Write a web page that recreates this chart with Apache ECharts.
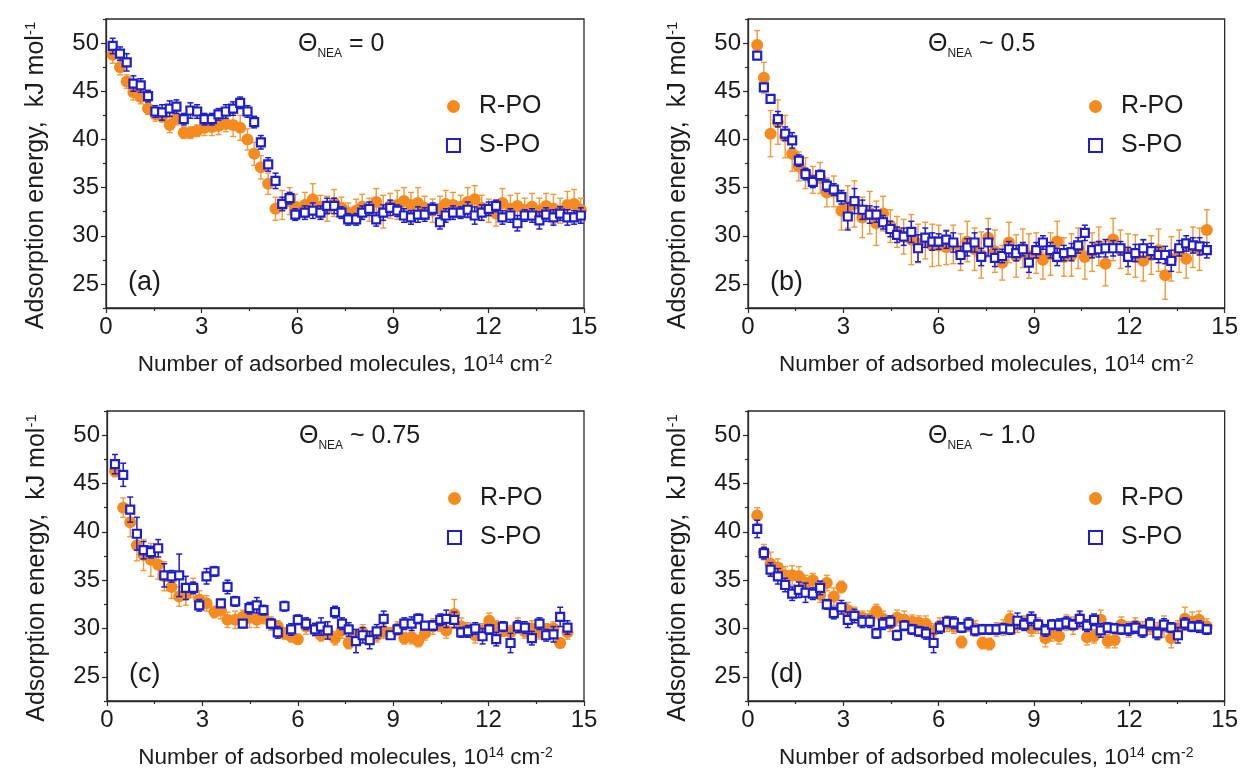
<!DOCTYPE html>
<html>
<head>
<meta charset="utf-8">
<script src="https://cdn.jsdelivr.net/npm/echarts@6/dist/echarts.min.js"></script>
<style>html,body{margin:0;padding:0;background:#fff}#c{width:1241px;height:773px}</style>
</head>
<body>
<div id="c"></div>
<script>
// ---------- data ----------
const xTicks = [0, 3, 6, 9, 12, 15];
const yTicks = [25, 30, 35, 40, 45, 50];
const seriesNames = ['R-PO', 'S-PO'];
const panelLetters = ['(a)', '(b)', '(c)', '(d)'];
const thetaValues = ['= 0', '~ 0.5', '~ 0.75', '~ 1.0'];

// panel (a)  Θ_NEA = 0
const aX = [0.21,0.44,0.65,0.86,1.09,1.32,1.55,1.76,2.0,2.21,2.44,2.65,2.86,3.09,3.32,3.53,3.76,3.99,4.21,4.44,4.65,4.86,5.09,5.32,5.53,5.76,5.94,
  6.24,6.49,6.73,6.94,7.16,7.39,7.6,7.85,8.04,8.26,8.48,8.7,8.92,9.14,9.35,9.57,9.79,10.0,10.25,10.48,10.66,10.89,11.13,11.35,11.57,11.79,12.01,12.24,12.44,12.69,12.91,13.14,13.37,13.6,13.81,14.04,14.25,14.48,14.69,14.9];
const aR = [48.8,47.5,46.0,44.9,44.4,43.2,42.6,42.4,41.5,42.2,40.7,40.7,40.9,41.2,41.3,41.4,41.6,41.5,41.2,40.0,38.5,37.1,35.4,32.8,33.2,33.6,33.0,
  33.2,33.8,33.0,32.8,33.4,32.9,32.4,32.6,33.0,32.7,33.5,32.5,33.1,33.2,33.6,33.2,33.4,32.9,32.6,32.8,33.3,33.2,33.0,33.5,33.8,32.9,32.6,32.3,33.4,32.8,33.1,32.7,33.0,32.6,33.1,32.8,32.6,33.2,33.3,32.7];
const aRerr = [0.9,0.8,0.7,0.8,0.7,0.6,0.7,0.6,0.8,0.7,0.6,0.6,0.6,0.8,0.9,0.9,0.8,1.2,1.3,1.1,1.2,1.2,1.1,1.2,1.5,1.4,1.3,
  1.3,1.6,1.2,1.3,1.4,1.1,1.0,1.2,1.3,1.2,1.4,1.7,1.3,1.5,1.4,1.3,1.6,1.2,1.2,1.3,1.4,1.3,1.2,1.5,1.4,1.3,1.2,1.3,1.5,1.4,1.3,1.2,1.4,1.3,1.3,1.5,1.3,1.4,1.5,1.2];
const aS = [49.7,48.9,48.0,45.8,45.6,44.5,42.9,42.8,43.2,43.4,42.1,43.0,42.9,42.1,42.1,42.6,42.9,43.2,43.8,42.9,41.8,39.7,37.4,35.7,33.3,33.9,32.2,
  32.4,32.6,32.4,33.1,33.1,32.4,31.7,31.7,32.4,32.8,31.7,32.4,32.9,32.6,32.1,31.9,32.2,32.2,32.8,31.4,32.1,32.4,32.4,32.7,32.1,32.4,32.8,33.1,31.9,32.1,31.3,32.1,32.1,31.6,32.2,31.9,32.3,31.9,31.9,32.1];
const aSerr = [0.8,0.7,0.9,0.8,0.7,0.6,0.6,0.8,0.8,0.7,0.6,0.8,0.7,0.6,0.6,0.6,0.7,0.7,0.6,0.6,0.6,0.7,0.7,0.8,0.7,0.6,0.6,
  0.7,0.8,0.7,0.8,0.8,0.6,0.6,0.6,0.7,0.7,0.7,0.8,0.8,0.6,0.7,0.7,0.8,0.7,0.6,0.7,0.7,0.7,0.6,0.8,0.9,0.8,0.7,0.6,0.7,0.7,0.8,0.6,0.7,0.9,0.7,0.8,0.7,0.8,0.7,0.8];

// panel (b)  Θ_NEA ~ 0.5
const bX = [0.29,0.5,0.71,0.94,1.17,1.39,1.6,1.81,2.04,2.27,2.48,2.7,2.94,3.14,3.35,3.6,3.83,4.04,4.25,4.48,4.69,4.9,5.14,5.35,5.58,5.8,6.0,6.24,6.46,6.69,
  6.9,7.13,7.34,7.56,7.77,8.0,8.21,8.44,8.65,8.84,9.07,9.28,9.52,9.73,9.94,10.18,10.39,10.6,10.83,11.04,11.25,11.49,11.72,11.96,12.19,12.44,12.69,12.92,13.13,13.32,13.57,13.79,14.0,14.21,14.44];
const bR = [49.8,46.4,40.6,41.8,40.3,38.5,37.2,36.5,35.8,36.0,34.5,34.6,32.6,33.0,33.3,31.9,32.4,31.3,32.3,31.0,30.4,29.9,29.6,29.2,29.5,29.0,29.0,28.8,29.1,28.3,
  29.4,28.6,28.0,29.8,28.4,27.2,29.3,27.9,28.7,27.9,28.2,27.5,28.1,29.4,27.8,28.0,28.7,27.8,28.3,28.9,27.1,29.6,28.6,28.1,27.9,27.4,28.0,28.5,25.9,27.6,28.4,27.6,28.8,28.6,30.6];
const bRerr = [1.5,1.6,2.4,2.3,2.2,1.8,1.5,1.6,1.4,1.6,1.5,1.6,2.0,2.2,2.4,2.1,2.2,2.3,1.8,1.7,1.6,1.8,2.6,2.0,1.9,2.2,2.1,1.8,2.0,1.9,
  2.1,2.2,2.4,2.0,2.2,1.8,2.1,2.2,2.0,2.3,2.1,2.0,2.2,2.1,2.0,2.2,2.1,2.3,2.0,2.0,2.3,2.2,2.0,2.1,2.2,2.1,2.0,2.2,2.5,2.3,2.2,2.0,2.1,2.2,2.1];
const bS = [48.7,45.4,44.2,42.1,40.6,39.9,37.8,36.4,35.6,36.3,35.2,34.8,34.0,32.0,33.6,32.7,32.2,32.2,31.4,30.7,30.1,29.9,30.4,28.7,29.8,29.4,29.4,29.6,29.3,28.0,
  28.8,29.3,27.8,29.3,27.7,27.9,28.6,28.2,28.6,27.2,28.5,29.3,28.5,27.8,28.2,28.3,29.0,30.3,28.5,28.6,28.7,28.7,28.7,27.8,28.2,28.7,28.4,28.0,28.0,27.4,28.7,29.2,29.0,28.9,28.5];
const bSerr = [0.3,0.4,0.4,0.8,0.7,0.8,0.6,0.6,0.6,0.5,0.6,0.6,0.7,1.4,1.3,1.0,0.9,0.8,0.7,0.8,0.8,0.9,1.1,1.4,1.0,0.9,0.8,0.9,1.0,0.9,
  0.9,1.0,0.9,1.4,0.9,0.7,0.8,0.8,0.7,1.0,0.8,0.7,0.8,0.9,0.8,0.9,0.8,0.8,0.8,0.8,0.9,0.8,0.7,1.0,0.9,0.9,0.8,0.8,0.9,1.1,0.8,0.8,0.8,0.9,0.8];

// panel (c)  Θ_NEA ~ 0.75
const cX = [0.25,0.51,0.73,0.94,1.15,1.38,1.61,1.8,2.03,2.27,2.48,2.71,2.9,3.13,3.38,3.58,3.79,4.03,4.27,4.48,4.71,4.92,5.16,5.37,5.58,5.79,6.0,6.26,6.54,6.73,
  6.94,7.17,7.39,7.6,7.83,8.04,8.26,8.48,8.7,8.92,9.14,9.35,9.58,9.79,10.0,10.25,10.48,10.67,10.92,11.14,11.35,11.58,11.81,12.02,12.24,12.45,12.69,12.92,13.14,13.36,13.6,13.81,14.04,14.25,14.48];
const cR = [46.3,42.5,41.0,38.6,37.6,37.1,36.6,35.4,34.3,33.3,33.5,34.2,33.0,32.6,31.7,31.9,30.9,30.9,31.2,31.1,30.9,31.2,30.5,30.2,29.5,29.2,28.9,30.2,29.9,29.3,
  29.6,29.0,29.8,28.5,29.2,29.6,29.1,29.3,29.7,29.5,30.0,29.0,29.1,28.7,29.5,30.2,30.4,29.8,31.5,30.2,29.9,29.3,29.8,30.8,30.1,29.8,29.6,30.3,29.7,30.0,29.6,29.9,30.0,28.5,29.6];
const cRerr = [0.6,1.0,1.5,1.6,1.6,1.7,1.5,1.5,1.2,1.0,1.1,1.0,0.9,0.8,0.6,0.9,0.8,0.9,0.7,1.0,0.8,0.7,0.7,0.6,0.6,0.6,0.5,0.8,0.7,0.6,
  0.6,0.7,0.8,0.6,0.7,0.8,0.6,0.7,0.7,0.6,0.7,0.6,0.7,0.6,0.7,0.8,0.7,0.8,1.5,0.9,0.7,0.8,0.7,0.8,0.7,0.6,0.7,0.8,0.7,0.8,0.7,0.6,0.7,0.5,0.7];
const cS = [47.0,45.9,42.3,39.8,38.1,37.9,38.3,35.5,35.4,35.5,34.2,34.2,32.4,35.4,35.9,32.6,34.3,32.8,30.5,32.1,32.4,31.9,30.5,29.6,32.3,29.9,30.9,30.5,29.9,30.2,
  29.8,31.7,30.5,29.9,28.7,29.3,28.8,29.7,31.0,29.3,29.9,30.5,30.5,31.0,30.3,30.3,30.9,31.0,30.9,29.6,29.7,30.0,29.2,29.9,28.9,30.2,28.5,30.2,30.1,29.0,30.5,29.3,29.4,31.2,30.1];
const cSerr = [1.0,1.2,1.3,1.7,0.9,0.6,0.9,1.2,0.6,2.2,1.2,0.6,0.6,0.8,0.5,0.4,0.7,0.5,0.4,0.6,0.8,0.5,0.5,0.6,0.5,0.6,0.5,0.6,0.6,0.9,
  0.9,0.6,0.6,0.7,1.2,0.8,0.9,0.7,0.8,0.3,0.5,0.6,0.7,0.5,0.4,0.5,0.6,0.9,0.8,0.5,0.6,0.6,0.8,0.5,0.7,0.5,1.0,0.6,0.6,0.7,0.6,0.6,0.8,1.0,0.7];

// panel (d)  Θ_NEA ~ 1.0
const dX = [0.29,0.5,0.71,0.94,1.17,1.39,1.6,1.81,2.04,2.27,2.48,2.7,2.94,3.14,3.35,3.6,3.83,4.04,4.25,4.48,4.69,4.92,5.17,5.38,5.6,5.84,6.04,6.27,6.48,6.72,
  6.94,7.15,7.38,7.6,7.82,8.04,8.25,8.48,8.69,8.92,9.13,9.36,9.57,9.79,10.02,10.23,10.44,10.67,10.89,11.1,11.32,11.54,11.75,11.98,12.19,12.42,12.65,12.88,13.09,13.32,13.53,13.75,13.98,14.19,14.44];
const dR = [41.7,37.9,36.7,36.3,35.5,35.5,35.4,34.7,35.0,33.5,34.7,33.3,34.3,31.9,31.4,31.1,31.0,31.8,31.0,30.5,31.1,30.9,30.7,30.6,30.5,29.8,30.3,30.5,30.2,28.6,
  30.4,30.0,28.5,28.4,29.9,30.1,31.0,30.4,30.6,30.0,30.3,29.0,29.5,29.2,30.6,30.3,30.8,29.1,29.2,30.9,28.7,28.8,30.4,29.9,30.3,29.9,30.2,29.7,30.2,29.0,30.0,31.0,30.7,30.9,30.2];
const dRerr = [0.8,0.8,1.2,0.9,0.9,1.0,1.0,0.8,0.7,0.8,0.8,0.9,0.6,0.8,0.8,0.7,0.8,0.7,0.8,0.8,0.8,0.9,0.7,0.7,0.8,0.7,0.8,0.8,0.7,0.6,
  0.7,0.8,0.6,0.6,0.7,0.8,0.8,0.8,0.7,0.8,0.8,0.9,0.8,0.8,0.8,0.9,0.8,0.8,0.7,1.0,0.7,0.8,0.8,0.8,0.8,0.8,0.8,0.9,1.1,1.0,0.8,1.2,1.0,0.9,0.8];
const dS = [40.3,37.8,36.1,35.4,34.5,33.6,34.0,33.7,33.6,34.2,32.5,31.6,32.2,30.9,31.3,30.7,30.7,29.5,30.5,30.7,29.3,30.3,29.9,29.7,29.5,28.5,30.1,30.7,30.6,30.1,
  30.5,29.8,29.9,29.9,29.9,30.0,29.9,30.8,30.4,31.0,30.4,29.8,30.4,30.4,30.6,30.4,31.0,30.3,30.9,29.8,30.1,30.0,29.9,29.9,30.1,29.7,30.5,29.5,30.4,30.1,29.3,30.5,30.2,30.2,29.9];
const dSerr = [0.9,0.6,0.7,0.8,0.7,0.7,0.8,1.0,0.6,0.7,0.5,0.6,0.7,0.8,0.7,0.6,0.6,0.5,0.6,0.6,0.5,0.5,0.5,0.5,0.6,1.0,0.6,0.5,0.6,0.5,
  0.6,0.5,0.5,0.5,0.5,0.5,0.5,0.8,0.6,0.7,0.5,0.6,0.5,0.6,0.6,0.5,0.8,0.6,0.6,0.7,0.5,0.5,0.5,0.6,0.6,0.6,0.6,0.6,0.6,0.5,0.8,0.6,0.5,0.6,0.5];

// ---------- layout & style ----------
const FONT = '"Liberation Sans", Arial, sans-serif';
const TXT = '#1b1b1b';
const ORANGE = '#F58A1F';
const ORANGE_ERR = '#F19A3A';
const BLUE = '#1E1ECC';

const panels = [
  { x: aX, r: aR, re: aRerr, s: aS, se: aSerr },
  { x: bX, r: bR, re: bRerr, s: bS, se: bSerr },
  { x: cX, r: cR, re: cRerr, s: cS, se: cSerr },
  { x: dX, r: dR, re: dRerr, s: dS, se: dSerr }
];
const gridPos = [
  { left: 106, top: 19, width: 478, height: 289 },
  { left: 748, top: 19, width: 478, height: 289 },
  { left: 107, top: 411, width: 477, height: 290 },
  { left: 748, top: 411, width: 478, height: 290 }
];

function errItem(color, lw, cap) {
  return function (params, api) {
    const x = api.value(0), y = api.value(1), e = api.value(2);
    const t = api.coord([x, y + e]);
    const b = api.coord([x, y - e]);
    const st = { stroke: color, lineWidth: lw };
    return {
      type: 'group',
      children: [
        { type: 'line', shape: { x1: t[0], y1: t[1], x2: b[0], y2: b[1] }, style: st },
        { type: 'line', shape: { x1: t[0] - cap, y1: t[1], x2: t[0] + cap, y2: t[1] }, style: st },
        { type: 'line', shape: { x1: b[0] - cap, y1: b[1], x2: b[0] + cap, y2: b[1] }, style: st }
      ]
    };
  };
}

const grid = [], xAxis = [], yAxis = [], series = [], title = [], legend = [];
const supX = { sup: { fontSize: 14, fontFamily: FONT, color: TXT, verticalAlign: 'top', lineHeight: 24 } };
const supY = { sup: { fontSize: 15, fontFamily: FONT, color: TXT, verticalAlign: 'top', lineHeight: 26 } };

panels.forEach((p, i) => {
  const g = gridPos[i];
  grid.push(Object.assign({ show: true, borderColor: '#2a2a2a', borderWidth: 1.3, backgroundColor: 'transparent' }, g));
  xAxis.push({
    type: 'value', gridIndex: i, min: xTicks[0], max: xTicks[xTicks.length - 1], interval: 3,
    name: 'Number of adsorbed molecules, 10{sup|14} cm{sup|-2}',
    nameLocation: 'middle', nameGap: 45,
    nameTextStyle: { fontSize: 22.5, fontFamily: FONT, color: TXT, rich: supX },
    axisLine: { show: true, lineStyle: { color: '#2a2a2a', width: 1.3 } },
    axisTick: { show: true, inside: false, length: 5, lineStyle: { color: '#2a2a2a', width: 1.2 } },
    minorTick: { show: true, splitNumber: 2, length: 3, lineStyle: { color: '#2a2a2a', width: 1.2 } },
    splitLine: { show: false },
    axisLabel: { fontSize: 24, fontFamily: FONT, color: TXT, margin: 7 }
  });
  yAxis.push({
    type: 'value', gridIndex: i, min: 22.5, max: 52.5,
    name: 'Adsorption energy,  kJ mol{sup|-1}',
    nameLocation: 'middle', nameGap: 57,
    nameTextStyle: { fontSize: 25, fontFamily: FONT, color: TXT, rich: supY, padding: [0, 24, 0, 0] },
    axisLine: { show: true, lineStyle: { color: '#2a2a2a', width: 1.3 } },
    axisTick: { show: true, inside: false, length: 5, customValues: yTicks, lineStyle: { color: '#2a2a2a', width: 1.2 } },
    splitLine: { show: false },
    axisLabel: { fontSize: 24, fontFamily: FONT, color: TXT, margin: 7, customValues: yTicks }
  });
  // minor y ticks (at 27.5, 32.5, ...)
  yAxis.push({
    type: 'value', gridIndex: i, min: 22.5, max: 52.5, interval: 5, position: 'left',
    axisLine: { show: false },
    axisTick: { show: true, inside: false, length: 3, lineStyle: { color: '#2a2a2a', width: 1.2 } },
    axisLabel: { show: false }, splitLine: { show: false }
  });
  const yi = 2 * i;
  series.push({
    name: 'R-PO err', type: 'custom', xAxisIndex: i, yAxisIndex: yi, z: 2, silent: true,
    renderItem: errItem(ORANGE_ERR, 1.4, 3),
    encode: { x: 0, y: 1 },
    data: p.x.map((v, k) => [v, p.r[k], p.re[k]])
  });
  series.push({
    name: seriesNames[0], type: 'scatter', xAxisIndex: i, yAxisIndex: yi, z: 3,
    symbol: 'circle', symbolSize: 12,
    itemStyle: { color: ORANGE, opacity: 1 },
    data: p.x.map((v, k) => [v, p.r[k]])
  });
  series.push({
    name: 'S-PO err', type: 'custom', xAxisIndex: i, yAxisIndex: yi, z: 4, silent: true,
    renderItem: errItem(BLUE, 1.5, 3),
    encode: { x: 0, y: 1 },
    data: p.x.map((v, k) => [v, p.s[k], p.se[k]])
  });
  series.push({
    name: seriesNames[1], type: 'scatter', xAxisIndex: i, yAxisIndex: yi, z: 5,
    symbol: 'rect', symbolSize: 8,
    itemStyle: { color: '#ffffff', borderColor: BLUE, borderWidth: 2.2, opacity: 1 },
    data: p.x.map((v, k) => [v, p.s[k]])
  });

  // Θ_NEA annotation
  title.push({
    text: '{t|Θ}{s|NEA}{t| ' + thetaValues[i] + '}',
    left: g.left + (i % 2 === 0 ? 192 : 180), top: g.top + 9,
    padding: 0,
    textStyle: {
      fontWeight: 'normal',
      rich: {
        t: { fontSize: 25, fontWeight: 'normal', fontFamily: FONT, color: TXT, lineHeight: 32 },
        s: { fontSize: 12, fontWeight: 'normal', fontFamily: FONT, color: TXT, verticalAlign: 'bottom', lineHeight: 32 }
      }
    }
  });
  // panel letter
  title.push({
    text: panelLetters[i], left: g.left + 22, top: g.top + 250, padding: 0,
    textStyle: { fontSize: 27, fontWeight: 'normal', fontFamily: FONT, color: TXT }
  });
  legend.push({
    orient: 'vertical', left: g.left + 340, top: g.top + 75, padding: 0,
    itemWidth: 13, itemHeight: 13, itemGap: 14,
    data: seriesNames,
    selectedMode: false,
    textStyle: { fontSize: 25, fontFamily: FONT, color: TXT, padding: [0, 0, 0, 14] }
  });
});

const chart = echarts.init(document.getElementById('c'), null, { renderer: 'canvas' });
chart.setOption({
  backgroundColor: '#ffffff',
  animation: false,
  title, legend, grid, xAxis, yAxis, series
});
</script>
</body>
</html>
